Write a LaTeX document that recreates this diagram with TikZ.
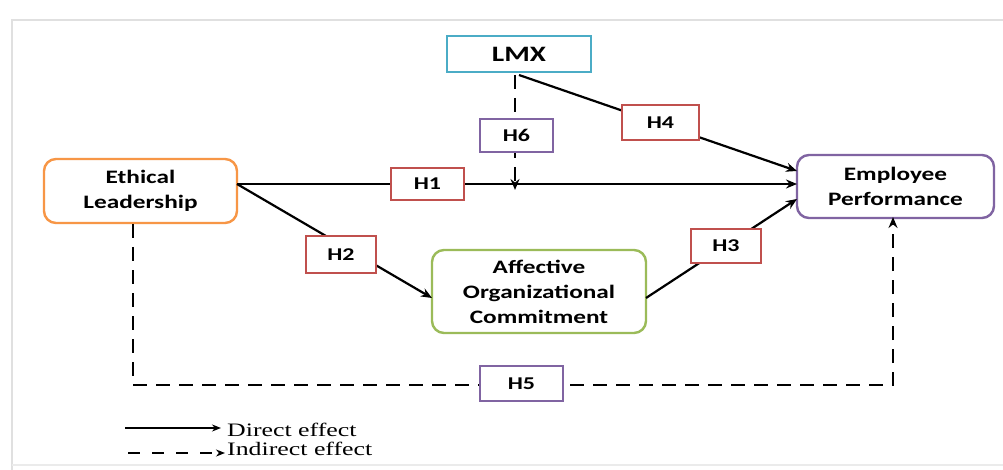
\documentclass[tikz,border=0pt]{standalone}
\usepackage{fontspec}
\setmainfont{Carlito}
\newfontfamily\boxfont[FakeStretch=1.33]{Carlito}
\newfontfamily\legendfont[FakeStretch=1.36]{Liberation Serif}
\usetikzlibrary{arrows.meta}
\definecolor{cteal}{HTML}{4BACC6}
\definecolor{corange}{HTML}{F79646}
\definecolor{cpurple}{HTML}{8064A2}
\definecolor{cgreen}{HTML}{9BBB59}
\definecolor{cred}{HTML}{C0504D}
\begin{document}
\begin{tikzpicture}[x=1pt,y=-1pt,
  box/.style={draw,line width=2.4pt,rounded corners=12pt,fill=white,align=center,font=\boxfont\bfseries\fontsize{19}{25}\selectfont,inner sep=0pt},
  hyp/.style={draw,line width=2.2pt,fill=white,font=\boxfont\bfseries\fontsize{18}{20}\selectfont,inner sep=0pt},
  conn/.style={line width=2.2pt,-{Stealth[length=11pt,width=9pt]}},
  dconn/.style={line width=2.2pt,dash pattern=on 14pt off 9pt,-{Stealth[length=11pt,width=9pt]}}]
\useasboundingbox (0,0) rectangle (1003,470);
\fill[white] (0,0) rectangle (1003,470);
\draw[black!12,line width=2pt] (12,470) -- (12,20) -- (1003,20);
\draw[black!8,line width=1.5pt] (12,465) -- (1003,465);
% main nodes
\node[box,draw=cteal,rounded corners=0pt,minimum width=144pt,minimum height=36pt,font=\boxfont\bfseries\fontsize{22}{24}\selectfont] (lmx) at (519,54) {LMX};
\node[box,draw=corange,minimum width=193pt,minimum height=64pt] (el) at (140.5,191) {Ethical\\Leadership};
\node[box,draw=cpurple,minimum width=197pt,minimum height=63pt] (ep) at (895.5,186.5) {Employee\\Performance};
\node[box,draw=cgreen,minimum width=214pt,minimum height=83pt] (aoc) at (539,291.5) {Affective\\Organizational\\Commitment};
% anchor coordinates
\coordinate (elr) at (237,184);
\coordinate (epl) at (797,184);
\coordinate (lmxb) at (515,75);
\coordinate (lmxr) at (519,75);
\coordinate (h6end) at (515,190);
\coordinate (elb) at (133,224);
\coordinate (epb) at (893,217);
\coordinate (c1) at (133,385);
\coordinate (c2) at (893,385);
\coordinate (aocin) at (432,298);
\coordinate (aocout) at (646,298);
\coordinate (ep3) at (797,199);
\coordinate (ep4) at (797,171);
% connectors
\draw[conn] (elr) -- (epl);
\draw[conn] (elr) -- (aocin);
\draw[conn] (aocout) -- (ep3);
\draw[conn] (lmxr) -- (ep4);
\draw[dconn] (lmxb) -- (h6end);
\draw[dconn] (elb) -- (c1) -- (c2) -- (epb);
% hypothesis labels
\node[hyp,draw=cred,minimum width=73pt,minimum height=32pt] (h1) at (427.5,184) {H1};
\node[hyp,draw=cred,minimum width=70pt,minimum height=37pt] (h2) at (341,254.5) {H2};
\node[hyp,draw=cred,minimum width=70pt,minimum height=34pt] (h3) at (726,246) {H3};
\node[hyp,draw=cred,minimum width=77pt,minimum height=35pt] (h4) at (660.5,122.5) {H4};
\node[hyp,draw=cpurple,minimum width=83pt,minimum height=35pt] (h5) at (521.5,383.5) {H5};
\node[hyp,draw=cpurple,minimum width=73pt,minimum height=33pt] (h6) at (516.5,135.5) {H6};
% legend
\coordinate (ls1) at (125,428);
\coordinate (le1) at (221,428);
\coordinate (ls2) at (128,453);
\coordinate (le2) at (225,453);
\draw[line width=2pt,-{Stealth[length=9pt,width=7pt]}] (ls1) -- (le1);
\draw[line width=2pt,dash pattern=on 12pt off 12pt,-{Stealth[length=9pt,width=7pt]}] (ls2) -- (le2);
\node[anchor=base west,inner sep=0pt,font=\legendfont\fontsize{19}{20}\selectfont] (l1) at (227,436) {Direct effect};
\node[anchor=base west,inner sep=0pt,font=\legendfont\fontsize{19}{20}\selectfont] (l2) at (227,455) {Indirect effect};
\end{tikzpicture}
\end{document}
